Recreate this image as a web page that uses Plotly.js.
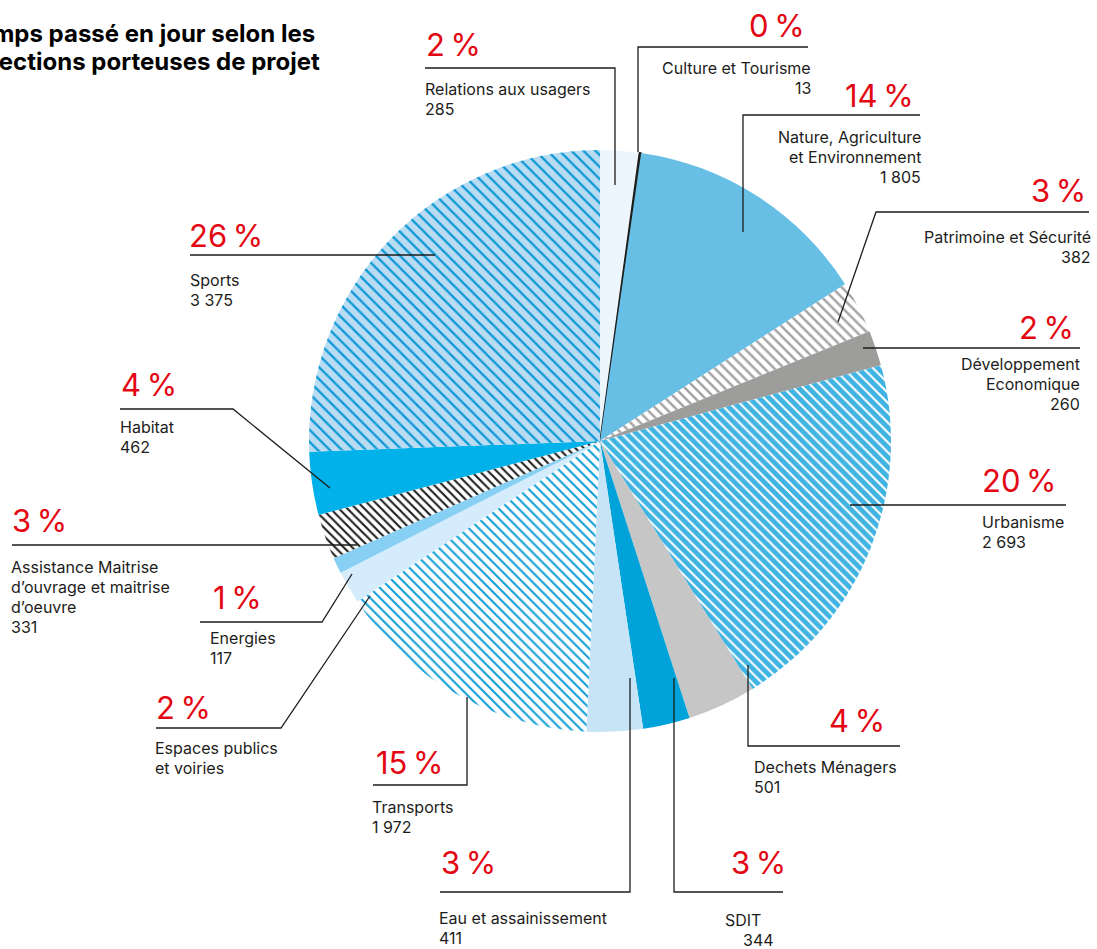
<!DOCTYPE html>
<html><head><meta charset="utf-8">
<script src="https://cdn.plot.ly/plotly-3.0.1.min.js"></script>
<style>html,body{margin:0;padding:0;background:#fff}</style>
</head><body>
<div id="chart" style="width:1097px;height:949px"></div>
<script>
// ---------- DATA ----------
const categories = ['Relations aux usagers','Culture et Tourisme','Nature, Agriculture et Environnement','Patrimoine et Sécurité','Développement Economique','Urbanisme','Dechets Ménagers','SDIT','Eau et assainissement','Transports','Espaces publics et voiries','Energies','Assistance Maitrise d’ouvrage et maitrise d’oeuvre','Habitat','Sports'];
const values = [285, 13, 1805, 382, 260, 2693, 501, 344, 411, 1972, 240, 117, 331, 462, 3375];
const pctLabels = ['2\u2009%','0\u2009%','14\u2009%','3\u2009%','2\u2009%','20\u2009%','4\u2009%','3\u2009%','3\u2009%','15\u2009%','2\u2009%','1\u2009%','3\u2009%','4\u2009%','26\u2009%'];
const valueLabels = ['285','13','1 805','382','260','2 693','501','344','411','1 972','','117','331','462','3 375'];
const nameLines = [
  ['Relations aux usagers'],
  ['Culture et Tourisme'],
  ['Nature, Agriculture','et Environnement'],
  ['Patrimoine et Sécurité'],
  ['Développement','Economique'],
  ['Urbanisme'],
  ['Dechets Ménagers'],
  ['SDIT'],
  ['Eau et assainissement'],
  ['Transports'],
  ['Espaces publics','et voiries'],
  ['Energies'],
  ['Assistance Maitrise','d’ouvrage et maitrise','d’oeuvre'],
  ['Habitat'],
  ['Sports']
];
const titleLines = ['Temps passé en jour selon les','directions porteuses de projet'];

// ---------- STYLE ----------
const sliceColors = ['#eef6fd','#1d1d1b','#67bfe6','#ffffff','#9d9d9c','#3fb3e2','#c6c6c6','#00a3d9','#c7e4f6','#ffffff','#d4ecfb','#87cff3','#ffffff','#00b1ea','#badcf3'];
const patShape   = ['','','','\\','','\\','','','','\\','','','\\','','\\'];
const patFg      = ['','','','#a3a3a3','','#ffffff','','','','#129fd8','','','#1d1d1b','','#0a98d6'];
const patBg      = ['','','','#ffffff','','#3fb3e2','','','','#ffffff','','','#ffffff','','#badcf3'];
const patSize    = [8,8,8,7,8,7,8,8,8,7,8,8,6,8,8.5];
const patSolid   = [0.3,0.3,0.3,0.35,0.3,0.3,0.3,0.3,0.3,0.3,0.3,0.3,0.35,0.3,0.27];
const lineW      = values.map((v,i)=> i===1 ? 1.4 : 0);

// callout geometry (pixel coordinates of the page)
const callouts = [
 {pct:[425,45,'left'],   txt:[424,89,'left'],   path:[[425,68],[615,68],[615,185]]},
 {pct:[806,25,'right'],  txt:[812,68,'right'],  path:[[808,47],[638,47],[638,152]]},
 {pct:[915,95,'right'],  txt:[922,137,'right'], path:[[920,115],[743,115],[743,232]]},
 {pct:[1087,191,'right'],txt:[1092,237,'right'],path:[[1089,212],[876,212],[838,322]]},
 {pct:[1075,327,'right'],txt:[1081,364,'right'],path:[[1080,348],[863,348]]},
 {pct:[981,480,'left'],  txt:[981,522,'left'],  path:[[1066,505],[850,505]]},
 {pct:[886,720,'right'], txt:[753,767,'left'],  path:[[900,746],[748,746],[748,665]]},
 {pct:[787,862,'right'], txt:[724,920,'left'],  path:[[783,892],[674,892],[674,678]], dx:[0,18]},
 {pct:[440,862,'left'],  txt:[438,918,'left'],  path:[[440,892],[630,892],[630,678]]},
 {pct:[375,762,'left'],  txt:[371,807,'left'],  path:[[373,785],[467,785],[467,697]]},
 {pct:[155,707,'left'],  txt:[154,748,'left'],  path:[[156,728],[281,728],[370,596]]},
 {pct:[212,597,'left'],  txt:[209,638,'left'],  path:[[200,622],[322,622],[352,574]]},
 {pct:[11,520,'left'],   txt:[10,567,'left'],   path:[[12,545],[357,545]]},
 {pct:[120,385,'left'],  txt:[119,427,'left'],  path:[[120,409],[233,409],[330,488]]},
 {pct:[188,236,'left'],  txt:[189,280,'left'],  path:[[190,255],[435,255]]}
];

const W = 1097, H = 949;
const CX = 600, CY = 441, R = 291;
const px = x => x / W;
const py = y => 1 - y / H;
const FONT = 'Inter, "Noto Sans", sans-serif';
const RED = '#e30613', INK = '#1d1d1b';

const annotations = [];
const shapes = [];
function addText(x, y, text, anchor, size, color) {
  annotations.push({xref:'paper', yref:'paper', x:px(x), y:py(y), text:text, showarrow:false,
    xanchor:anchor, yanchor:'middle', align:anchor, borderpad:0,
    font:{family:FONT, size:size, color:color}});
}
callouts.forEach((c, i) => {
  addText(c.pct[0], c.pct[1], pctLabels[i], c.pct[2], 31, RED);
  const lines = nameLines[i].concat(valueLabels[i] ? [valueLabels[i]] : []);
  lines.forEach((t, k) => {
    const dx = c.dx ? c.dx[k] || 0 : 0;
    addText(c.txt[0] + dx, c.txt[1] + 20 * k, t, c.txt[2], 16, INK);
  });
  const d = c.path.map((p, k) => (k ? 'L' : 'M') + px(p[0]) + ',' + py(p[1])).join(' ');
  shapes.push({type:'path', xref:'paper', yref:'paper', path:d, line:{color:INK, width:1.3}});
});
annotations.push({xref:'paper', yref:'paper', x:px(316), y:py(33), text:'<b>'+titleLines[0]+'</b>', showarrow:false, xanchor:'right', yanchor:'middle', borderpad:0, font:{family:FONT, size:24, color:'#000'}});
annotations.push({xref:'paper', yref:'paper', x:px(321), y:py(62), text:'<b>'+titleLines[1]+'</b>', showarrow:false, xanchor:'right', yanchor:'middle', borderpad:0, font:{family:FONT, size:24, color:'#000'}});

const trace = {
  type:'pie', labels:categories, values:values, sort:false, direction:'clockwise', rotation:0,
  textinfo:'none', hoverinfo:'label+value',
  domain:{x:[px(CX-R), px(CX+R)], y:[py(CY+R), py(CY-R)]},
  marker:{colors:sliceColors, line:{color:'#1d1d1b', width:lineW},
    pattern:{shape:patShape, fgcolor:patFg.map((c,i)=>c||sliceColors[i]), bgcolor:patBg.map((c,i)=>c||sliceColors[i]), size:patSize, solidity:patSolid, fillmode:'replace'}}
};

Plotly.newPlot('chart', [trace], {
  width:W, height:H, margin:{l:0,r:0,t:0,b:0}, showlegend:false,
  paper_bgcolor:'#ffffff', plot_bgcolor:'#ffffff',
  annotations:annotations, shapes:shapes
}, {staticPlot:true});
</script>
</body></html>
